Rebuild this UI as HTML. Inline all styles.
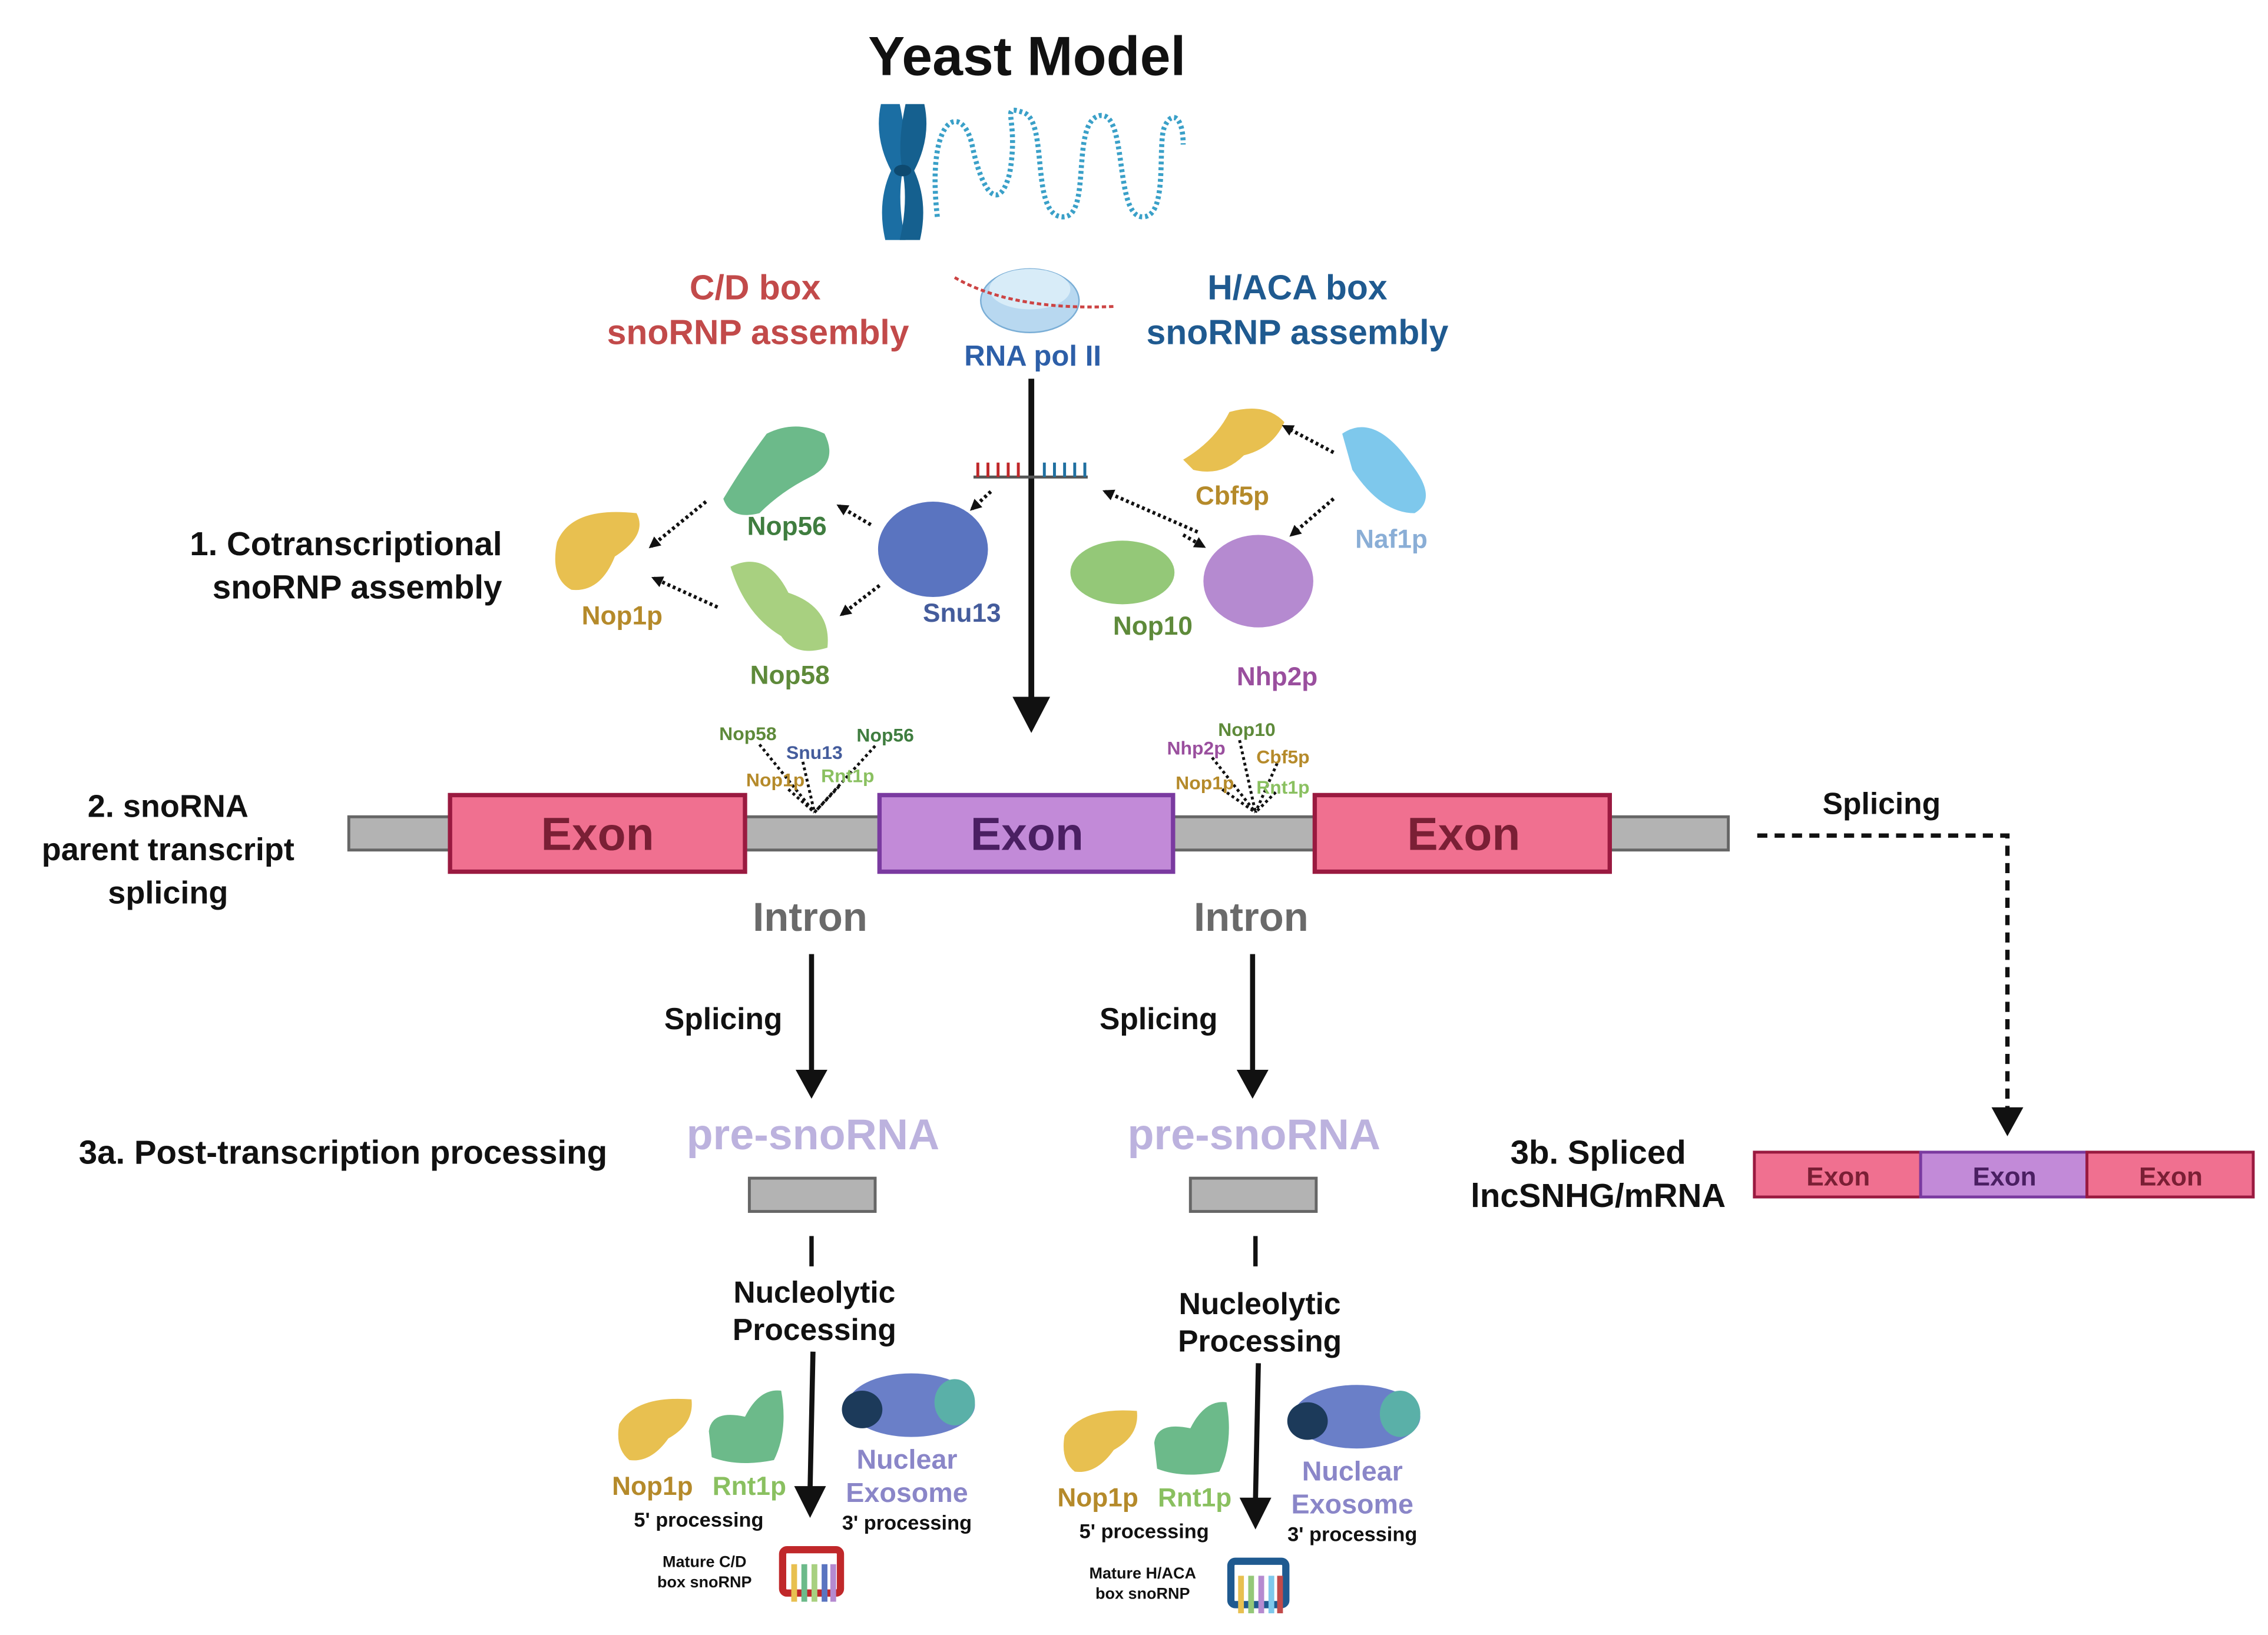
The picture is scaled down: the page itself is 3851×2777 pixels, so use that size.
<!DOCTYPE html>
<html><head><meta charset="utf-8"><style>
html,body{margin:0;padding:0;background:#fff;}
svg{display:block;}
text{font-family:"Liberation Sans",sans-serif;font-weight:bold;}
</style></head><body>
<svg width="3851" height="2777" viewBox="0 0 1568 1131" xmlns="http://www.w3.org/2000/svg">
<rect width="1568" height="1131" fill="#fff"/>
<!-- title -->
<text x="710" y="52" font-size="38" text-anchor="middle" fill="#111">Yeast Model</text>
<!-- chromosome X -->
<path d="M609,72 L622,72 Q628,100 624,118 Q620,140 626,166 L612,166 Q606,140 616,118 Q604,95 609,72Z" fill="#1b6ea3"/>
<path d="M639,72 L626,72 Q620,100 624,118 Q628,140 622,166 L636,166 Q642,140 632,118 Q644,95 639,72Z" fill="#15608f"/>
<ellipse cx="624" cy="118" rx="6" ry="4" fill="#0e4a70"/>
<!-- wavy DNA -->
<path d="M648,150 C640,80 665,70 672,100 C678,130 690,150 698,120 C705,80 690,72 708,78 C725,85 712,150 735,150 C755,150 740,85 760,80 C780,76 770,150 790,150 C808,150 800,100 805,88 C810,76 818,80 818,100" fill="none" stroke="#3aa0c8" stroke-width="3.5" stroke-dasharray="2,2"/>
<!-- C/D & H/ACA -->
<text x="522" y="207" font-size="24" text-anchor="middle" fill="#c24a4a">C/D box</text>
<text x="524" y="238" font-size="24" text-anchor="middle" fill="#c24a4a">snoRNP assembly</text>
<text x="897" y="207" font-size="24" text-anchor="middle" fill="#1f5a90">H/ACA box</text>
<text x="897" y="238" font-size="24" text-anchor="middle" fill="#1f5a90">snoRNP assembly</text>
<!-- RNA pol II -->
<ellipse cx="712" cy="208" rx="34" ry="22" fill="#b8d8f0" stroke="#7aaed6"/>
<ellipse cx="712" cy="200" rx="28" ry="14" fill="#d8ecf8"/>
<path d="M660,192 Q700,215 770,212" stroke="#c44" stroke-width="2" fill="none" stroke-dasharray="3,2"/>
<text x="714" y="253" font-size="20" text-anchor="middle" fill="#2d5fa8">RNA pol II</text>
<!-- main arrow -->
<line x1="713" y1="262" x2="713" y2="485" stroke="#111" stroke-width="4"/>
<path d="M700,482 L726,482 L713,507 Z" fill="#111"/>
<!-- comb -->
<line x1="673" y1="330" x2="752" y2="330" stroke="#555" stroke-width="2"/>
<g stroke="#c0282a" stroke-width="2"><line x1="676" y1="320" x2="676" y2="330"/><line x1="683" y1="320" x2="683" y2="330"/><line x1="690" y1="320" x2="690" y2="330"/><line x1="697" y1="320" x2="697" y2="330"/><line x1="704" y1="320" x2="704" y2="330"/></g>
<g stroke="#1f6fa0" stroke-width="2"><line x1="722" y1="320" x2="722" y2="330"/><line x1="729" y1="320" x2="729" y2="330"/><line x1="736" y1="320" x2="736" y2="330"/><line x1="743" y1="320" x2="743" y2="330"/><line x1="750" y1="320" x2="750" y2="330"/></g>
<!-- proteins -->
<path d="M385,375 Q395,350 440,355 Q448,370 425,385 Q415,410 395,408 Q380,400 385,375Z" fill="#e8c050"/>
<path d="M500,345 Q515,320 530,300 Q550,290 570,300 Q580,320 560,330 Q540,340 525,355 Q505,360 500,345Z" fill="#6cba8a"/>
<path d="M505,392 Q530,380 545,410 Q575,420 572,448 Q550,455 540,440 Q515,425 505,392Z" fill="#a8d080"/>
<ellipse cx="645" cy="380" rx="38" ry="33" fill="#5a74c0"/>
<path d="M818,318 Q840,305 850,285 Q875,278 888,292 Q880,310 860,315 Q845,330 825,325Z" fill="#e8c050"/>
<path d="M928,300 Q950,285 975,320 Q995,345 978,355 Q955,355 935,325Z" fill="#7ec8ec"/>
<ellipse cx="776" cy="396" rx="36" ry="22" fill="#94c878"/>
<ellipse cx="870" cy="402" rx="38" ry="32" fill="#b58ad0"/>
<text x="430" y="432" font-size="18" text-anchor="middle" fill="#b58a2a">Nop1p</text>
<text x="544" y="370" font-size="18" text-anchor="middle" fill="#3f7d3f">Nop56</text>
<text x="546" y="473" font-size="18" text-anchor="middle" fill="#5e8a3a">Nop58</text>
<text x="665" y="430" font-size="18" text-anchor="middle" fill="#445c9c">Snu13</text>
<text x="852" y="349" font-size="18" text-anchor="middle" fill="#b58a2a">Cbf5p</text>
<text x="962" y="379" font-size="18" text-anchor="middle" fill="#8aaed6">Naf1p</text>
<text x="797" y="439" font-size="18" text-anchor="middle" fill="#5e8a3a">Nop10</text>
<text x="883" y="474" font-size="18" text-anchor="middle" fill="#9a4f9e">Nhp2p</text>
<defs><marker id="sa" markerWidth="8" markerHeight="8" refX="6" refY="4" orient="auto" markerUnits="userSpaceOnUse"><path d="M0,0 L8,4 L0,8 z" fill="#111"/></marker></defs>
<g stroke="#111" stroke-width="2.5" stroke-dasharray="2,2" fill="none" marker-end="url(#sa)">
<line x1="488" y1="347" x2="450" y2="378"/>
<line x1="496" y1="420" x2="452" y2="400"/>
<line x1="602" y1="363" x2="580" y2="350"/>
<line x1="608" y1="405" x2="582" y2="425"/>
<line x1="685" y1="340" x2="672" y2="352"/>
<line x1="828" y1="368" x2="764" y2="340"/>
<line x1="922" y1="313" x2="888" y2="295"/>
<line x1="922" y1="345" x2="893" y2="370"/>
<line x1="818" y1="370" x2="832" y2="378"/>
</g>
<text x="347" y="384" font-size="23" text-anchor="end" fill="#111">1. Cotranscriptional</text>
<text x="347" y="414" font-size="23" text-anchor="end" fill="#111">snoRNP assembly</text>
<!-- gene bar -->
<rect x="241" y="565" width="954" height="23" fill="#b3b3b3" stroke="#666" stroke-width="2"/>
<rect x="311" y="550" width="204" height="53" fill="#f07090" stroke="#9a1a40" stroke-width="3"/>
<rect x="608" y="550" width="203" height="53" fill="#c28ad8" stroke="#7a3aa0" stroke-width="3"/>
<rect x="909" y="550" width="204" height="53" fill="#f07090" stroke="#9a1a40" stroke-width="3"/>
<text x="413" y="588" font-size="32" text-anchor="middle" fill="#7a1f35">Exon</text>
<text x="710" y="588" font-size="32" text-anchor="middle" fill="#4a1f62">Exon</text>
<text x="1012" y="588" font-size="32" text-anchor="middle" fill="#7a1f35">Exon</text>
<g stroke="#111" stroke-width="2" stroke-dasharray="2,2">
<line x1="525" y1="515" x2="563" y2="562"/><line x1="555" y1="527" x2="563" y2="562"/><line x1="605" y1="516" x2="563" y2="562"/><line x1="545" y1="546" x2="563" y2="562"/><line x1="580" y1="544" x2="563" y2="562"/>
<line x1="857" y1="512" x2="868" y2="562"/><line x1="838" y1="524" x2="868" y2="562"/><line x1="883" y1="528" x2="868" y2="562"/><line x1="845" y1="546" x2="868" y2="562"/><line x1="882" y1="548" x2="868" y2="562"/>
</g>
<g font-size="13">
<text x="517" y="512" text-anchor="middle" fill="#5e8a3a">Nop58</text>
<text x="612" y="513" text-anchor="middle" fill="#3f7d3f">Nop56</text>
<text x="563" y="525" text-anchor="middle" fill="#445c9c">Snu13</text>
<text x="536" y="544" text-anchor="middle" fill="#b58a2a">Nop1p</text>
<text x="586" y="541" text-anchor="middle" fill="#8ac060">Rnt1p</text>
<text x="862" y="509" text-anchor="middle" fill="#5e8a3a">Nop10</text>
<text x="827" y="522" text-anchor="middle" fill="#9a4f9e">Nhp2p</text>
<text x="887" y="528" text-anchor="middle" fill="#b58a2a">Cbf5p</text>
<text x="833" y="546" text-anchor="middle" fill="#b58a2a">Nop1p</text>
<text x="887" y="549" text-anchor="middle" fill="#8ac060">Rnt1p</text>
</g>
<text x="560" y="644" font-size="28" text-anchor="middle" fill="#6a6a6a">Intron</text>
<text x="865" y="644" font-size="28" text-anchor="middle" fill="#6a6a6a">Intron</text>
<text x="116" y="565" font-size="22" text-anchor="middle" fill="#111">2.  snoRNA</text>
<text x="116" y="595" font-size="22" text-anchor="middle" fill="#111">parent transcript</text>
<text x="116" y="625" font-size="22" text-anchor="middle" fill="#111">splicing</text>
<text x="1301" y="563" font-size="21" text-anchor="middle" fill="#111">Splicing</text>
<path d="M1215,578 L1388,578 L1388,768" fill="none" stroke="#111" stroke-width="3" stroke-dasharray="7,5"/>
<path d="M1377,766 L1399,766 L1388,786 Z" fill="#111"/>
<line x1="561" y1="660" x2="561" y2="742" stroke="#111" stroke-width="3.5"/><path d="M550,740 L572,740 L561,760 Z" fill="#111"/>
<line x1="866" y1="660" x2="866" y2="742" stroke="#111" stroke-width="3.5"/><path d="M855,740 L877,740 L866,760 Z" fill="#111"/>
<text x="500" y="712" font-size="21" text-anchor="middle" fill="#111">Splicing</text>
<text x="801" y="712" font-size="21" text-anchor="middle" fill="#111">Splicing</text>
<text x="562" y="795" font-size="30" text-anchor="middle" fill="#bcb2de">pre-snoRNA</text>
<text x="867" y="795" font-size="30" text-anchor="middle" fill="#bcb2de">pre-snoRNA</text>
<rect x="518" y="815" width="87" height="23" fill="#b3b3b3" stroke="#666" stroke-width="2"/>
<rect x="823" y="815" width="87" height="23" fill="#b3b3b3" stroke="#666" stroke-width="2"/>
<line x1="561" y1="855" x2="561" y2="876" stroke="#111" stroke-width="3"/>
<line x1="868" y1="855" x2="868" y2="876" stroke="#111" stroke-width="3"/>
<text x="237" y="805" font-size="23" text-anchor="middle" fill="#111">3a.  Post-transcription processing</text>
<text x="1105" y="805" font-size="23" text-anchor="middle" fill="#111">3b.  Spliced</text>
<text x="1105" y="835" font-size="23" text-anchor="middle" fill="#111">lncSNHG/mRNA</text>
<rect x="1213" y="797" width="115" height="31" fill="#f07090" stroke="#9a1a40" stroke-width="2"/>
<rect x="1328" y="797" width="115" height="31" fill="#c28ad8" stroke="#7a3aa0" stroke-width="2"/>
<rect x="1443" y="797" width="115" height="31" fill="#f07090" stroke="#9a1a40" stroke-width="2"/>
<text x="1271" y="820" font-size="18" text-anchor="middle" fill="#7a1f35">Exon</text>
<text x="1386" y="820" font-size="18" text-anchor="middle" fill="#4a1f62">Exon</text>
<text x="1501" y="820" font-size="18" text-anchor="middle" fill="#7a1f35">Exon</text>
<g>
<text x="563" y="901" font-size="21" text-anchor="middle" fill="#111">Nucleolytic</text>
<text x="563" y="927" font-size="21" text-anchor="middle" fill="#111">Processing</text>
<line x1="562" y1="935" x2="560" y2="1030" stroke="#111" stroke-width="3.5"/><path d="M549,1028 L571,1028 L560,1050 Z" fill="#111"/>
<path d="M428,985 Q440,965 478,968 Q480,985 462,995 Q450,1012 435,1010 Q425,1002 428,985Z" fill="#e8c050"/>
<path d="M490,990 Q492,975 515,980 Q525,960 540,962 Q545,990 535,1010 Q510,1015 492,1008Z" fill="#6cba8a"/>
<ellipse cx="630" cy="972" rx="44" ry="22" fill="#6a7fc8"/><ellipse cx="596" cy="975" rx="14" ry="13" fill="#1c3a5a"/><ellipse cx="660" cy="970" rx="14" ry="16" fill="#5ab0a8"/>
<text x="451" y="1034" font-size="18" text-anchor="middle" fill="#b58a2a">Nop1p</text>
<text x="518" y="1034" font-size="18" text-anchor="middle" fill="#8ac060">Rnt1p</text>
<text x="627" y="1016" font-size="19" text-anchor="middle" fill="#8a86c8">Nuclear</text>
<text x="627" y="1039" font-size="19" text-anchor="middle" fill="#8a86c8">Exosome</text>
<text x="483" y="1056" font-size="14" text-anchor="middle" fill="#111">5' processing</text>
<text x="627" y="1058" font-size="14" text-anchor="middle" fill="#111">3' processing</text>
<text x="487" y="1084" font-size="11" text-anchor="middle" fill="#111">Mature C/D</text>
<text x="487" y="1098" font-size="11" text-anchor="middle" fill="#111">box snoRNP</text>
<rect x="541" y="1072" width="40" height="30" rx="3" fill="#fff" stroke="#c0282a" stroke-width="5"/>
<g stroke-width="4"><line x1="549" y1="1082" x2="549" y2="1108" stroke="#e8c050"/><line x1="556" y1="1082" x2="556" y2="1108" stroke="#6cba8a"/><line x1="563" y1="1082" x2="563" y2="1108" stroke="#a8d080"/><line x1="570" y1="1082" x2="570" y2="1108" stroke="#5a74c0"/><line x1="576" y1="1082" x2="576" y2="1108" stroke="#b58ad0"/></g>
</g>
<g transform="translate(308,8)">
<text x="563" y="901" font-size="21" text-anchor="middle" fill="#111">Nucleolytic</text>
<text x="563" y="927" font-size="21" text-anchor="middle" fill="#111">Processing</text>
<line x1="562" y1="935" x2="560" y2="1030" stroke="#111" stroke-width="3.5"/><path d="M549,1028 L571,1028 L560,1050 Z" fill="#111"/>
<path d="M428,985 Q440,965 478,968 Q480,985 462,995 Q450,1012 435,1010 Q425,1002 428,985Z" fill="#e8c050"/>
<path d="M490,990 Q492,975 515,980 Q525,960 540,962 Q545,990 535,1010 Q510,1015 492,1008Z" fill="#6cba8a"/>
<ellipse cx="630" cy="972" rx="44" ry="22" fill="#6a7fc8"/><ellipse cx="596" cy="975" rx="14" ry="13" fill="#1c3a5a"/><ellipse cx="660" cy="970" rx="14" ry="16" fill="#5ab0a8"/>
<text x="451" y="1034" font-size="18" text-anchor="middle" fill="#b58a2a">Nop1p</text>
<text x="518" y="1034" font-size="18" text-anchor="middle" fill="#8ac060">Rnt1p</text>
<text x="627" y="1016" font-size="19" text-anchor="middle" fill="#8a86c8">Nuclear</text>
<text x="627" y="1039" font-size="19" text-anchor="middle" fill="#8a86c8">Exosome</text>
<text x="483" y="1056" font-size="14" text-anchor="middle" fill="#111">5' processing</text>
<text x="627" y="1058" font-size="14" text-anchor="middle" fill="#111">3' processing</text>
<text x="482" y="1084" font-size="11" text-anchor="middle" fill="#111">Mature H/ACA</text>
<text x="482" y="1098" font-size="11" text-anchor="middle" fill="#111">box snoRNP</text>
<rect x="543" y="1072" width="38" height="30" rx="3" fill="#fff" stroke="#1f5a90" stroke-width="5"/>
<g stroke-width="4"><line x1="550" y1="1082" x2="550" y2="1108" stroke="#e8c050"/><line x1="557" y1="1082" x2="557" y2="1108" stroke="#94c878"/><line x1="564" y1="1082" x2="564" y2="1108" stroke="#b58ad0"/><line x1="571" y1="1082" x2="571" y2="1108" stroke="#7ec8ec"/><line x1="577" y1="1082" x2="577" y2="1108" stroke="#c24a4a"/></g>
</g>
</svg>
</body></html>
